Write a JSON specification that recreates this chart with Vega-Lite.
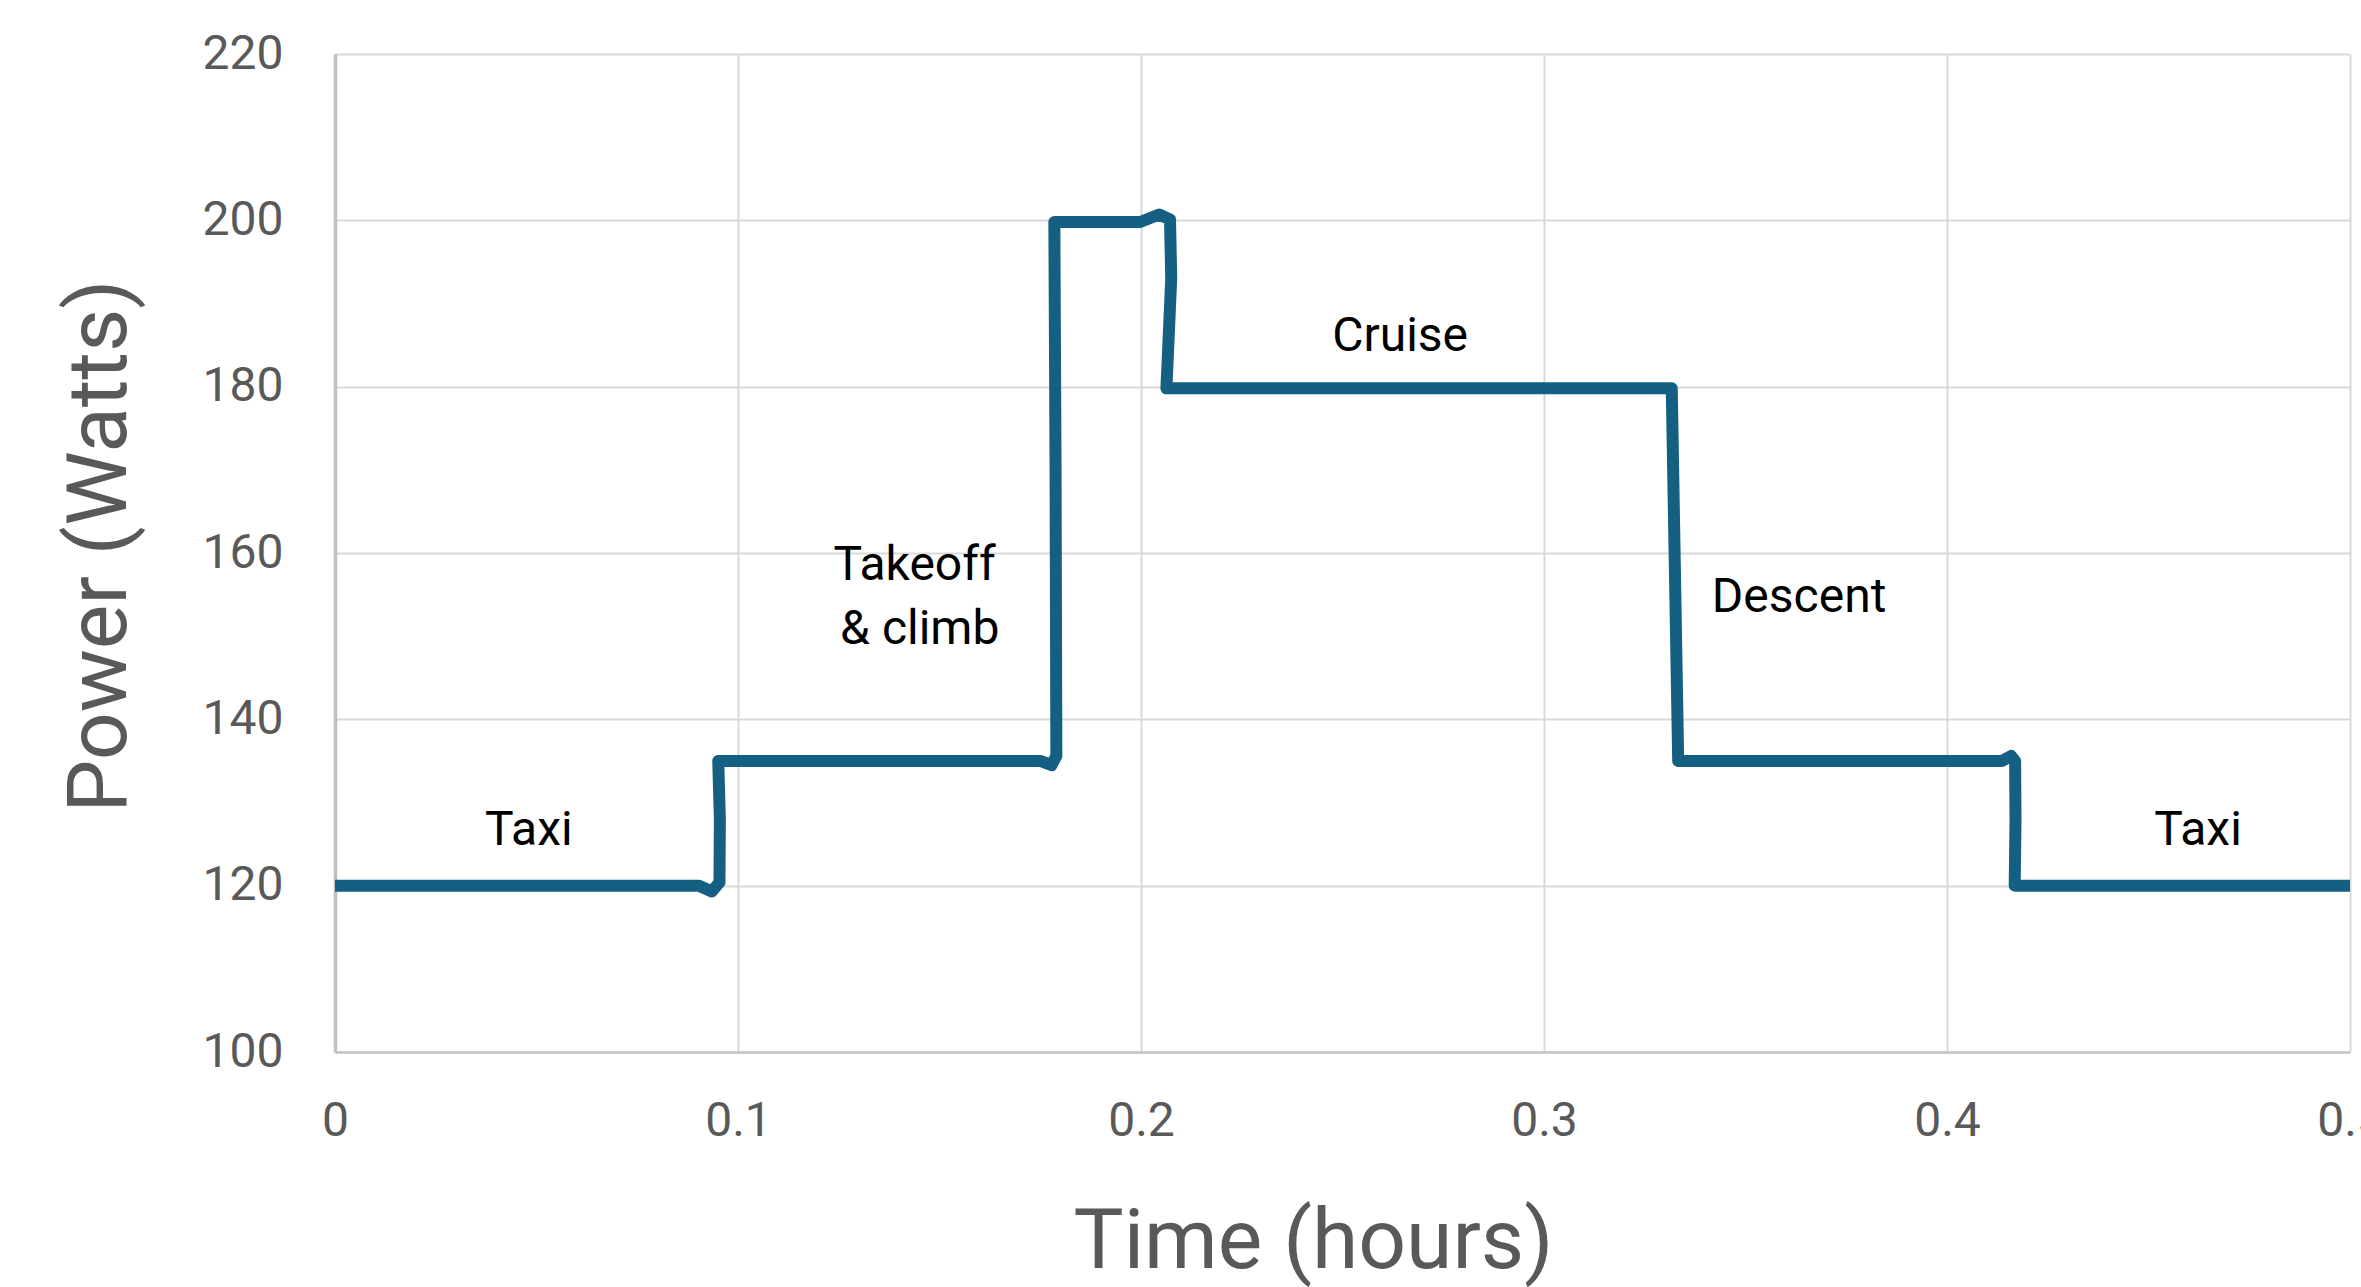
{
  "$schema": "https://vega.github.io/schema/vega-lite/v6.json",
  "width": 2015,
  "height": 998,
  "autosize": {"type": "none"},
  "padding": {"left": 335, "top": 54, "right": 11, "bottom": 235},
  "background": "white",
  "config": {"view": {"stroke": null}, "font": "Roboto"},
  "layer": [
    {
      "data": {
        "values": [
          {"hours": 0, "watts": 120},
          {"hours": 0.0903, "watts": 120},
          {"hours": 0.0935, "watts": 119.3},
          {"hours": 0.0954, "watts": 120.4},
          {"hours": 0.0955, "watts": 128},
          {"hours": 0.0951, "watts": 135},
          {"hours": 0.175, "watts": 135},
          {"hours": 0.1778, "watts": 134.5},
          {"hours": 0.1790, "watts": 135.6},
          {"hours": 0.1788, "watts": 170},
          {"hours": 0.1785, "watts": 199.8},
          {"hours": 0.1998, "watts": 199.8},
          {"hours": 0.2045, "watts": 200.7},
          {"hours": 0.2072, "watts": 200.1},
          {"hours": 0.2075, "watts": 193},
          {"hours": 0.2066, "watts": 183},
          {"hours": 0.2063, "watts": 179.8},
          {"hours": 0.3317, "watts": 179.8},
          {"hours": 0.3333, "watts": 135.0},
          {"hours": 0.4136, "watts": 135.0},
          {"hours": 0.4159, "watts": 135.6},
          {"hours": 0.4169, "watts": 135.0},
          {"hours": 0.4170, "watts": 128},
          {"hours": 0.4168, "watts": 120},
          {"hours": 0.5, "watts": 120}
        ]
      },
      "mark": {
        "type": "line",
        "color": "#156082",
        "strokeWidth": 12,
        "strokeJoin": "round",
        "strokeCap": "butt",
        "clip": false
      },
      "encoding": {
        "x": {
          "field": "hours",
          "type": "quantitative",
          "scale": {"domain": [0, 0.5], "nice": false, "zero": false},
          "axis": {
            "values": [0, 0.1, 0.2, 0.3, 0.4, 0.5],
            "format": "~g",
            "grid": true,
            "gridColor": "#D9D9D9",
            "gridWidth": 2,
            "domainColor": "#C6C6C6",
            "domainWidth": 2.5,
            "ticks": false,
            "labelFont": "Roboto",
            "labelFontSize": 48,
            "labelColor": "#595959",
            "labelPadding": 45,
            "labelFlush": false,
            "labelOverlap": false,
            "labelBound": false,
            "title": "Time (hours)",
            "titleFont": "Roboto",
            "titleFontSize": 84,
            "titleFontWeight": "normal",
            "titleColor": "#595959",
            "titleX": 978,
            "titleY": 215,
            "titleAlign": "center",
            "titleBaseline": "alphabetic"
          }
        },
        "y": {
          "field": "watts",
          "type": "quantitative",
          "scale": {"domain": [100, 220], "nice": false, "zero": false},
          "axis": {
            "values": [100, 120, 140, 160, 180, 200, 220],
            "grid": true,
            "gridColor": "#D9D9D9",
            "gridWidth": 2,
            "domainColor": "#C0C0C0",
            "domainWidth": 3.5,
            "ticks": false,
            "labelFont": "Roboto",
            "labelFontSize": 48,
            "labelColor": "#595959",
            "labelPadding": 52,
            "labelOverlap": false,
            "labelBound": false,
            "title": "Power (Watts)",
            "titleFont": "Roboto",
            "titleFontSize": 84,
            "titleFontWeight": "normal",
            "titleColor": "#595959",
            "titleX": -210,
            "titleY": 491.5,
            "titleAngle": -90,
            "titleAlign": "center",
            "titleBaseline": "alphabetic"
          }
        },
        "order": {"value": null}
      }
    },
    {
      "data": {
        "values": [
          {"label": "Taxi", "hours": 0.0481, "watts": 124.9},
          {"label": "Takeoff", "hours": 0.1438, "watts": 156.8},
          {"label": "& climb", "hours": 0.1451, "watts": 149.1},
          {"label": "Cruise", "hours": 0.2643, "watts": 184.3},
          {"label": "Descent", "hours": 0.3633, "watts": 152.9},
          {"label": "Taxi", "hours": 0.4623, "watts": 124.9}
        ]
      },
      "mark": {
        "type": "text",
        "font": "Roboto",
        "fontSize": 48,
        "color": "#000000",
        "align": "center",
        "baseline": "alphabetic"
      },
      "encoding": {
        "x": {"field": "hours", "type": "quantitative"},
        "y": {"field": "watts", "type": "quantitative"},
        "text": {"field": "label", "type": "nominal"}
      }
    }
  ]
}
